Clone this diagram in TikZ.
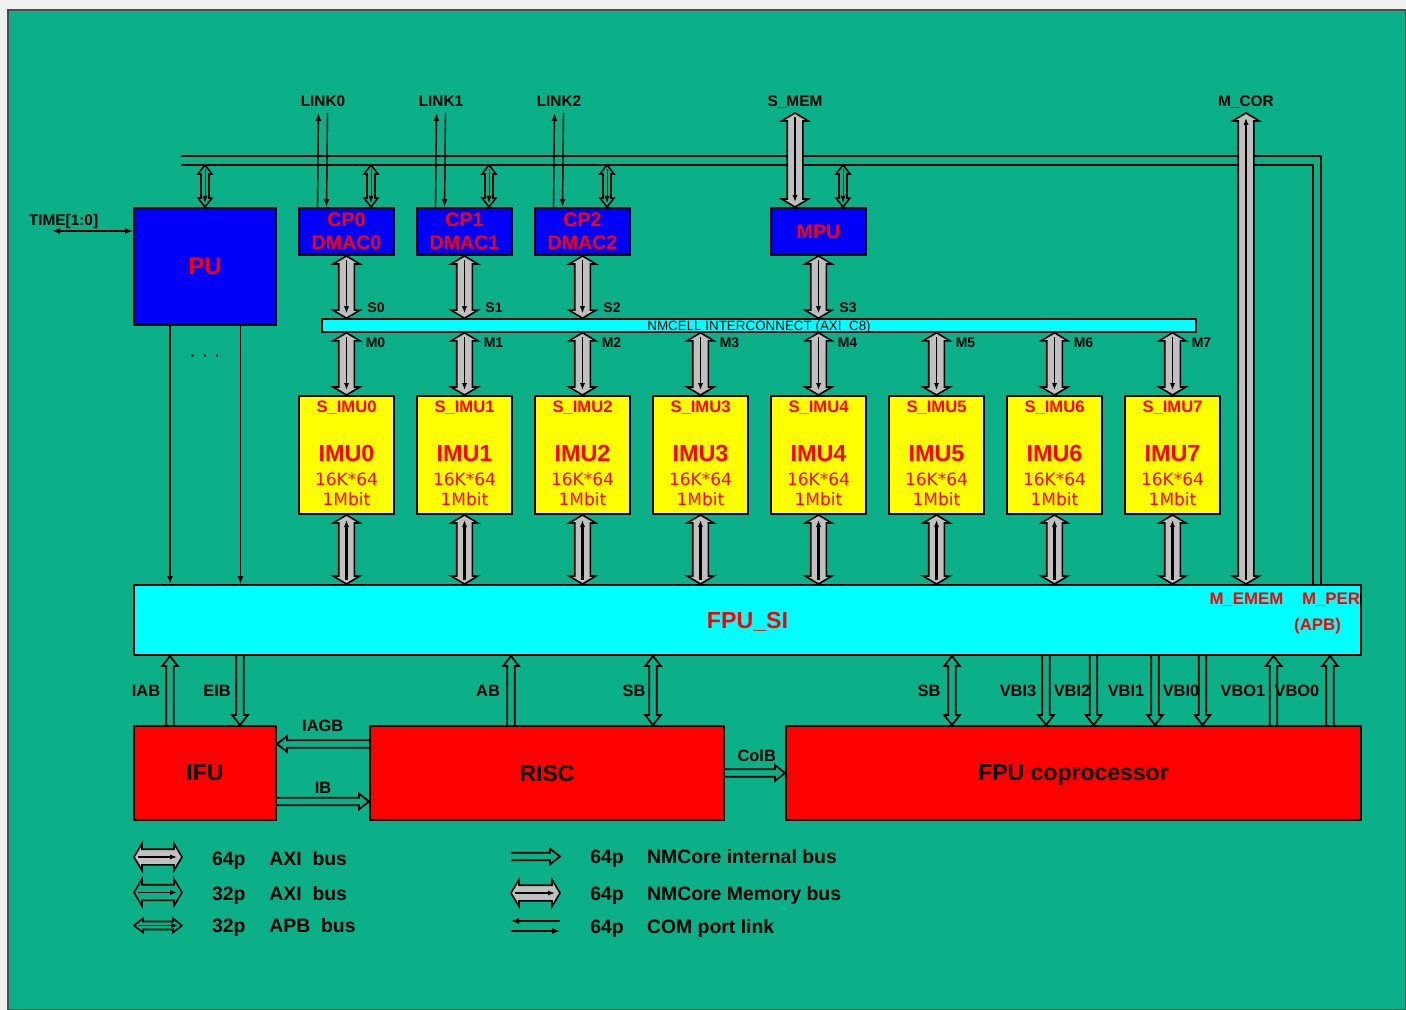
\documentclass[tikz,border=0pt]{standalone}
\usepackage{fontspec}
\setmainfont{Liberation Sans}
\newfontfamily\memfont{DejaVu Sans}
\usetikzlibrary{arrows.meta,positioning,calc}
\definecolor{board}{RGB}{12,176,136}
\definecolor{nmblue}{RGB}{0,0,250}
\definecolor{nmred}{RGB}{255,0,0}
\definecolor{nmyellow}{RGB}{255,255,0}
\definecolor{nmcyan}{RGB}{0,255,255}
\definecolor{busgrey}{RGB}{192,192,192}

\newcommand{\fsz}[2]{\fontsize{#1}{#2}\selectfont}

% outline of a two-headed bus: style, shaft half, head half, head length, from, to
\newcommand{\busshape}[6]{%
  \path (#5) coordinate (ba) (#6) coordinate (bb);
  \path ($(ba)!#4!(bb)$) coordinate (bt) ($(bb)!#4!(ba)$) coordinate (bh);
  \draw[#1] (ba) -- ($(bt)!#3!90:(bb)$) -- ($(bt)!#2!90:(bb)$)
    -- ($(bh)!#2!90:(bb)$) -- ($(bh)!#3!90:(bb)$) -- (bb)
    -- ($(bh)!#3!-90:(bb)$) -- ($(bh)!#2!-90:(bb)$)
    -- ($(bt)!#2!-90:(bb)$) -- ($(bt)!#3!-90:(bb)$) -- cycle;}
% 64p AXI bus
\newcommand{\axibus}[2]{%
  \busshape{busout,fill=busgrey}{3.9pt}{6.7pt}{4pt}{#1}{#2}
  \draw[inarrow] ($(ba)!2pt!(bb)$) -- ($(bb)!2.5pt!(ba)$);}
% 32p AXI bus
\newcommand{\axiwbus}[2]{%
  \busshape{busout}{3.9pt}{6.7pt}{4pt}{#1}{#2}
  \draw[inarrow] ($(ba)!2pt!(bb)$) -- ($(bb)!2.5pt!(ba)$);}
% NMCore memory bus
\newcommand{\membus}[2]{%
  \busshape{busout,fill=busgrey}{3.9pt}{6.7pt}{4pt}{#1}{#2}
  \draw[inarrow,line width=1.1pt] ($(ba)!2pt!(bb)$) -- ($(bb)!2.5pt!(ba)$);}
% 32p APB bus
\newcommand{\apbbus}[2]{%
  \busshape{busout}{2pt}{3.5pt}{4.5pt}{#1}{#2}
  \draw[inarrow,line width=0.5pt] ($(ba)!2pt!(bb)$) -- ($(bb)!2pt!(ba)$);}
% NMCore internal bus
\newcommand{\intbus}[2]{%
  \path (#1) coordinate (ba) (#2) coordinate (bb);
  \path ($(bb)!5pt!(ba)$) coordinate (bh);
  \draw[ibus] ($(ba)!1.9pt!90:(bb)$) -- ($(bh)!1.9pt!90:(bb)$)
    -- ($(bh)!3.9pt!90:(bb)$) -- (bb) -- ($(bh)!3.9pt!-90:(bb)$)
    -- ($(bh)!1.9pt!-90:(bb)$) -- ($(ba)!1.9pt!-90:(bb)$);}
\newcommand{\intboth}[2]{\busshape{ibus}{1.9pt}{3.9pt}{5pt}{#1}{#2}}

\begin{document}
\begin{tikzpicture}[x=0.5pt,y=-0.5pt,
    busout/.style={draw=black,line width=0.8pt,line join=miter},
    inarrow/.style={-{Latex[length=3.5pt,width=2.6pt]},line width=0.6pt},
    ibus/.style={draw=black,line width=0.9pt,line join=miter},
    comlink/.style={-{Latex[length=4pt,width=3pt]},line width=0.7pt},
    thinarrow/.style={-{Latex[length=4pt,width=3pt]},line width=0.7pt},
    busline/.style={line width=0.9pt},
    blk/.style={draw=black,line width=1pt,inner sep=0pt},
    pubox/.style={blk,fill=nmblue,text=nmred,font=\fsz{12}{14}\bfseries,
      minimum width=71pt,minimum height=58.5pt},
    cpbox/.style={blk,fill=nmblue,text=nmred,font=\fsz{9.8}{11.5}\bfseries,
      align=center,minimum width=47.5pt,minimum height=23.5pt},
    imubox/.style={blk,fill=nmyellow,minimum width=47.5pt,minimum height=59pt},
    sibox/.style={blk,fill=nmcyan,text=nmred,font=\fsz{11.6}{13}\bfseries,
      text depth=0pt,minimum width=613.5pt,minimum height=35pt},
    icbar/.style={draw=black,line width=0.8pt,fill=nmcyan,inner sep=0pt,
      minimum width=437pt,minimum height=6.5pt},
    redbox/.style={blk,fill=nmred,font=\fsz{11.5}{13}\bfseries,text depth=0pt,
      minimum height=47pt},
    imusub/.style={text=nmred,font=\fsz{8.3}{9}\bfseries,anchor=base,inner sep=0pt},
    imuname/.style={text=nmred,font=\fsz{11.7}{13}\bfseries,anchor=base,inner sep=0pt},
    imusize/.style={text=nmred,font=\memfont\fsz{8.5}{10},anchor=base,inner sep=0pt},
    toplbl/.style={font=\fsz{7.7}{9}\bfseries,anchor=base,inner sep=0pt},
    portlbl/.style={font=\fsz{7}{8}\bfseries,anchor=base,inner sep=0pt},
    buslbl/.style={font=\fsz{8.2}{9}\bfseries,anchor=base,inner sep=0pt},
    redlbl/.style={text=nmred,font=\fsz{8.4}{9}\bfseries,anchor=base,inner sep=0pt},
    lgtext/.style={font=\fsz{9.7}{11}\bfseries,anchor=base west,inner sep=0pt}]

\useasboundingbox (0,0) rectangle (1406,1010);
\fill[black!6] (0,0) rectangle (1406,1010);
\draw[fill=board,draw=black!70,line width=0.6pt] (8,10) rectangle (1406,1010);

% blocks
\node[pubox] (pu) at (205,266.5) {PU};
\foreach \i in {0,1,2}
  \node[cpbox] (cp\i) at (346.5+118*\i,231.5) {CP\i\\DMAC\i};
\node[cpbox] (mpu) at (818.5,231.5) {MPU};
\node[icbar] (ic) at (759,325.5) {};
\node[font=\fsz{6.7}{8},anchor=base,inner sep=0pt] (ictext) at (759,330.5)
  {NMCELL INTERCONNECT (AXI\_C8)};
\foreach \i in {0,...,7} {
  \node[imubox] (imu\i) at (346.5+118*\i,455) {};
  \node[imusub] (simu\i) at ($(imu\i.north)+(0,17)$) {S\_IMU\i};
  \node[imuname] (nimu\i) at ($(imu\i.north)+(0,66)$) {IMU\i};
  \node[imusize] (kimu\i) at ($(imu\i.north)+(0,90)$) {16K*64};
  \node[imusize] (mimu\i) at ($(imu\i.north)+(0,110)$) {1Mbit};
}
\node[sibox] (fpusi) at (747.5,620) {FPU\_SI};
\node[redlbl] (lmemem) at (1246.5,604) {M\_EMEM};
\node[redlbl] (lmper) at (1331,604) {M\_PER};
\node[redlbl] (lapb) at (1317.5,630) {(APB)};
\node[redbox,minimum width=71pt] (ifu) at (205,773) {IFU};
\node[redbox,minimum width=177pt] (risc) at (547,773) {RISC};
\node[redbox,minimum width=287.5pt] (fpc) at (1073.5,773) {FPU coprocessor};

% system bus
\coordinate (busout) at (181,156);
\coordinate (busin) at (181,165);
\coordinate (perout) at (1321,0);
\coordinate (perin) at (1313,0);
\draw[busline] (busout) -| (perout |- fpusi.north);
\draw[busline] (busin) -| (perin |- fpusi.north);

% APB taps
\apbbus{pu.north |- busin}{pu.north}
\foreach \i in {0,1,2} {
  \coordinate (apb\i) at ($(cp\i.north east)+(-24,0)$);
  \apbbus{apb\i |- busin}{apb\i}
}
\coordinate (apbm) at ($(mpu.north east)+(-24,0)$);
\apbbus{apbm |- busin}{apbm}

% COM port links
\foreach \i in {0,1,2} {
  \coordinate (link\i) at (323+118*\i,113);
  \draw[comlink] ($(cp\i.north west)+(19.5,0)$) -- ($(link\i)+(-4.5,0)$);
  \draw[comlink] ($(link\i)+(4.5,0)$) -- ($(cp\i.north west)+(28.5,0)$);
  \node[toplbl] (llink\i) at ($(link\i)+(0,-6)$) {LINK\i};
}

% slave / master ports
\foreach \i in {0,1,2} {
  \axibus{cp\i.south}{cp\i.south |- ic.north}
  \node[portlbl] (ls\i) at ($(cp\i.south)+(29.5,57)$) {S\i};
}
\axibus{mpu.south}{mpu.south |- ic.north}
\node[portlbl] (ls3) at ($(mpu.south)+(29.5,57)$) {S3};
\foreach \i in {0,...,7} {
  \axibus{imu\i.north |- ic.south}{imu\i.north}
  \node[portlbl] (lm\i) at ($(imu\i.north)+(29,-48)$) {M\i};
  \membus{imu\i.south |- fpusi.north}{imu\i.south}
}
\coordinate (smem) at (795,113);
\axibus{smem}{smem |- mpu.north}
\node[toplbl] (lsmem) at ($(smem)+(0,-6)$) {S\_MEM};
\coordinate (mcor) at (1246,113);
\axibus{mcor |- fpusi.north}{mcor}
\node[toplbl] (lmcor) at ($(mcor)+(0,-6)$) {M\_COR};

% PU
\coordinate (timeend) at (52,231);
\draw[{Latex[length=4pt,width=3pt]}-{Latex[length=4pt,width=3pt]},line width=0.7pt]
  (timeend) -- (timeend -| pu.west);
\node[toplbl] (ltime) at (63.5,225.5) {TIME[1:0]};
\foreach \x [count=\k] in {170,240.5} {
  \coordinate (pud\k) at (\x,0);
  \draw[thinarrow] (pud\k |- pu.south) -- (pud\k |- fpusi.north);
}
\node[font=\fsz{10}{11},inner sep=0pt] (pudots) at (205,358) {· · ·};

% internal buses
\foreach \n/\x in {iab/170,eib/240,ab/511,sba/653,sbb/952,vbi3/1046,vbi2/1093.5,
    vbi1/1155,vbi0/1202.5,vbo1/1273.5,vbo0/1330}
  \coordinate (\n) at (\x,0);
\intbus{iab |- ifu.north}{iab |- fpusi.south}
\intbus{eib |- fpusi.south}{eib |- ifu.north}
\intbus{ab |- risc.north}{ab |- fpusi.south}
\intboth{sba |- risc.north}{sba |- fpusi.south}
\intboth{sbb |- fpc.north}{sbb |- fpusi.south}
\foreach \n in {vbi3,vbi2,vbi1,vbi0} {\intbus{\n |- fpusi.south}{\n |- fpc.north}}
\foreach \n in {vbo1,vbo0} {\intbus{\n |- fpc.north}{\n |- fpusi.south}}
\coordinate (iagb) at (0,744);
\coordinate (ib) at (0,801.5);
\coordinate (colb) at (0,773);
\intbus{risc.west |- iagb}{ifu.east |- iagb}
\intbus{ifu.east |- ib}{risc.west |- ib}
\intbus{risc.east |- colb}{fpc.west |- colb}
\foreach \t/\x [count=\k] in {IAB/146,EIB/217,AB/488,SB/634,SB/929,VBI3/1018,
    VBI2/1072,VBI1/1126,VBI0/1181,VBO1/1243,VBO0/1297}
  \node[buslbl] (lbus\k) at (\x,696) {\t};
\node[buslbl] (liagb) at (322.7,731.7) {IAGB};
\node[buslbl] (lib) at (323,793) {IB};
\node[buslbl] (lcolb) at (756.7,761.7) {ColB};

% legend
\coordinate (lg1a) at (134,857);   \coordinate (lg1b) at (182,857);
\coordinate (lg2a) at (134,892.5); \coordinate (lg2b) at (182,892.5);
\coordinate (lg3a) at (134,925.5); \coordinate (lg3b) at (182,925.5);
\coordinate (lg4a) at (511,856.5); \coordinate (lg4b) at (560,856.5);
\coordinate (lg5a) at (511,893);   \coordinate (lg5b) at (560,893);
\coordinate (lg6a) at (511,921);   \coordinate (lg6b) at (560,921);
\coordinate (lg7a) at (511,931);   \coordinate (lg7b) at (560,931);
\axibus{lg1a}{lg1b}
\axiwbus{lg2a}{lg2b}
\apbbus{lg3a}{lg3b}
\intbus{lg4a}{lg4b}
\membus{lg5a}{lg5b}
\draw[comlink] (lg6b) -- (lg6a);
\draw[comlink] (lg7a) -- (lg7b);
\foreach \y/\p/\t [count=\k] in {865/64p/AXI~~bus,900.5/32p/AXI~~bus,932.5/32p/APB~~bus} {
  \node[lgtext] (lgp\k) at (211.7,\y) {\p};
  \node[lgtext] (lgt\k) at (269,\y) {\t};
}
\foreach \y/\t [count=\k] in {863/NMCore internal bus,900/NMCore Memory bus,933/COM port link} {
  \node[lgtext] (lgq\k) at (590,\y) {64p};
  \node[lgtext] (lgu\k) at (646.7,\y) {\t};
}
\end{tikzpicture}
\end{document}
